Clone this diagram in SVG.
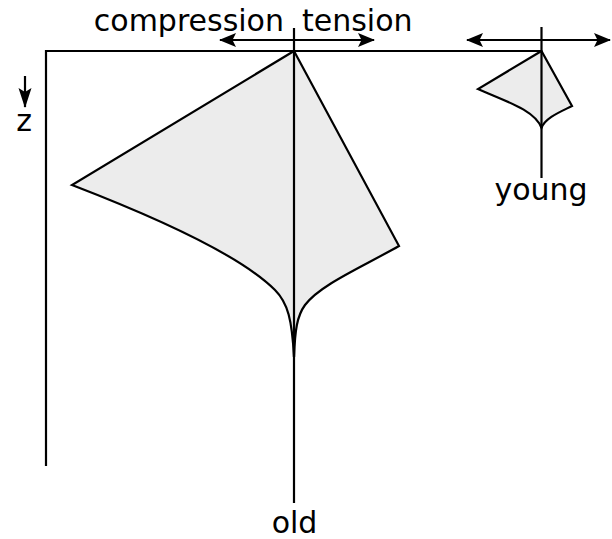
<svg xmlns="http://www.w3.org/2000/svg" width="612" height="539" viewBox="0 0 612 539">
<defs>
<style>
.ln{stroke:#000;stroke-width:2.2;fill:none}
.shape{fill:#ececec;stroke:#000;stroke-width:2.2;stroke-linejoin:miter}
.lbl{font-family:"DejaVu Sans",sans-serif;font-size:30px;fill:#000}
</style>
<marker id="ah" viewBox="-18 -9 20 18" markerWidth="20" markerHeight="18" refX="0" refY="0" orient="auto-start-reverse" markerUnits="userSpaceOnUse">
<path d="M1,0 L-16,-7 L-12.5,0 L-16,7 Z" fill="#000"/>
</marker>
<marker id="ahz" viewBox="-22 -9 24 18" markerWidth="24" markerHeight="18" refX="0" refY="0" orient="auto" markerUnits="userSpaceOnUse">
<path d="M1,0 L-19,-6.5 L-15,0 L-19,6.5 Z" fill="#000"/>
</marker>
</defs>
<g id="connectors">
<line class="ln" x1="46" y1="51" x2="541.5" y2="51"/>
<line class="ln" x1="46" y1="50" x2="46" y2="466"/>
<line class="ln" x1="294" y1="28" x2="294" y2="503"/>
<line class="ln" x1="541.5" y1="27" x2="541.5" y2="178"/>
<line class="ln" x1="220" y1="40" x2="374" y2="40" marker-start="url(#ah)" marker-end="url(#ah)"/>
<line class="ln" x1="467" y1="40" x2="610" y2="40" marker-start="url(#ah)" marker-end="url(#ah)"/>
<line class="ln" x1="25" y1="76" x2="25" y2="107" marker-end="url(#ahz)"/>
</g>
<g id="old">
<path class="shape" d="M294,51 L72,185 C150,215 240,255 275,290 C288,303 292,320 294,357 C295,330 297,316 305,305 C320,285 360,268 399,246 Z"/>
<line class="ln" x1="294" y1="51" x2="294" y2="357"/>
<text class="lbl" x="294.5" y="533" text-anchor="middle">old</text>
</g>
<g id="young">
<path class="shape" d="M541.5,51 L478,89 C505,101 535,110 541.5,128 C545,118 560,112 572,106 Z"/>
<line class="ln" x1="541.5" y1="51" x2="541.5" y2="128"/>
<text class="lbl" x="541" y="200" text-anchor="middle">young</text>
</g>
<g id="labels">
<text class="lbl" x="284" y="31" text-anchor="end">compression</text>
<text class="lbl" x="302" y="31">tension</text>
<text class="lbl" x="24" y="131" text-anchor="middle">z</text>
</g>
</svg>
